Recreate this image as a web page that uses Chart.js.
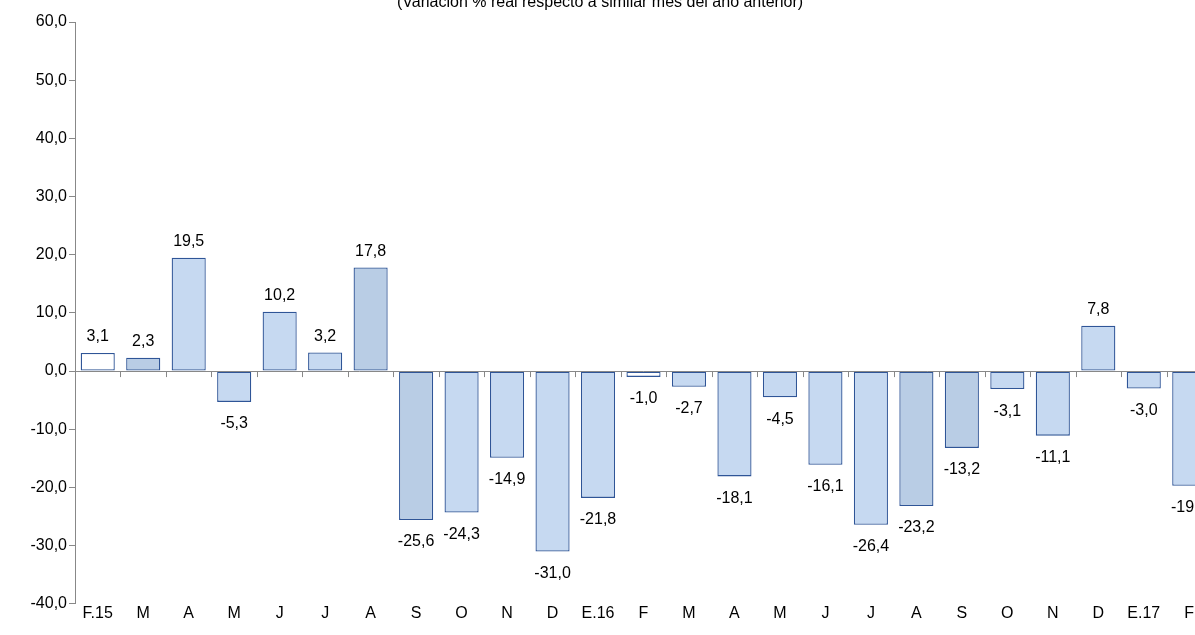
<!DOCTYPE html>
<html><head><meta charset="utf-8">
<script src="https://cdn.jsdelivr.net/npm/chart.js@4/dist/chart.umd.min.js"></script>
<style>html,body{margin:0;padding:0;overflow:hidden;background:#fff}#wrap{width:1212px;height:635px}</style>
</head><body><div id="wrap"><canvas id="c"></canvas></div>
<script>
const categories = ['F.15','M','A','M','J','J','A','S','O','N','D','E.16','F','M','A','M','J','J','A','S','O','N','D','E.17','F'];
const values = [3.1,2.3,19.5,-5.3,10.2,3.2,17.8,-25.6,-24.3,-14.9,-31.0,-21.8,-1.0,-2.7,-18.1,-4.5,-16.1,-26.4,-23.2,-13.2,-3.1,-11.1,7.8,-3.0,-19.7];
const whiteBars = [0,12];
const darkBars = [1,6,7,18,19];
const title = '(Variación % real respecto a similar mes del año anterior)';

const fills = values.map((v,i) => whiteBars.includes(i) ? '#ffffff' : darkBars.includes(i) ? '#b9cde5' : '#c6d9f1');
const fmt = v => v.toFixed(1).replace('.', ',');

const extras = {
  id: 'extras',
  afterDatasetsDraw(chart) {
    const ctx = chart.ctx, x = chart.scales.x, y = chart.scales.y;
    const y0 = y.getPixelForValue(0);
    ctx.save();
    ctx.strokeStyle = '#888'; ctx.lineWidth = 1;
    ctx.beginPath();
    ctx.moveTo(x.left, Math.round(y0) + 0.5); ctx.lineTo(x.right, Math.round(y0) + 0.5);
    const w = x.getPixelForValue(1) - x.getPixelForValue(0);
    for (let i = 1; i <= categories.length; i++) {
      const px = Math.round(x.getPixelForValue(i) - w / 2) + 0.5;
      ctx.moveTo(px, y0); ctx.lineTo(px, y0 + 6);
    }
    ctx.stroke();
    ctx.fillStyle = '#000'; ctx.font = '16px "Liberation Sans", Arial';
    ctx.textAlign = 'center';
    const meta = chart.getDatasetMeta(0);
    meta.data.forEach((bar, i) => {
      const v = values[i];
      if (v >= 0) { ctx.textBaseline = 'bottom'; ctx.fillText(fmt(v), bar.x, bar.y - 8); }
      else { ctx.textBaseline = 'top'; ctx.fillText(fmt(v), bar.x, bar.y + 14); }
    });
    ctx.textBaseline = 'middle';
    ctx.fillText(title, 600, 3);
    ctx.restore();
  }
};

new Chart(document.getElementById('c'), {
  type: 'bar',
  data: { labels: categories, datasets: [{ data: values, backgroundColor: fills, borderColor: '#2f5597', borderWidth: 1.3, borderSkipped: false, categoryPercentage: 1, barPercentage: 0.75 }] },
  options: {
    responsive: true, maintainAspectRatio: false, animation: false,
    layout: { padding: { top: 22, right: 0, left: 0, bottom: 12 } },
    plugins: { legend: { display: false }, tooltip: { enabled: false } },
    scales: {
      x: { grid: { display: false, drawTicks: false }, border: { display: false },
           ticks: { color: '#000', font: { size: 16, family: '"Liberation Sans", Arial' }, padding: 0, maxRotation: 0, autoSkip: false } },
      y: { min: -40, max: 60, afterFit(s) { s.width = 75; },
           grid: { display: true, drawOnChartArea: false, drawTicks: true, tickLength: 6, color: '#888' }, border: { display: true, color: '#888' },
           ticks: { stepSize: 10, color: '#000', font: { size: 16, family: '"Liberation Sans", Arial' }, padding: 2, callback: v => fmt(v) } }
    }
  },
  plugins: [extras]
});
</script></body></html>
